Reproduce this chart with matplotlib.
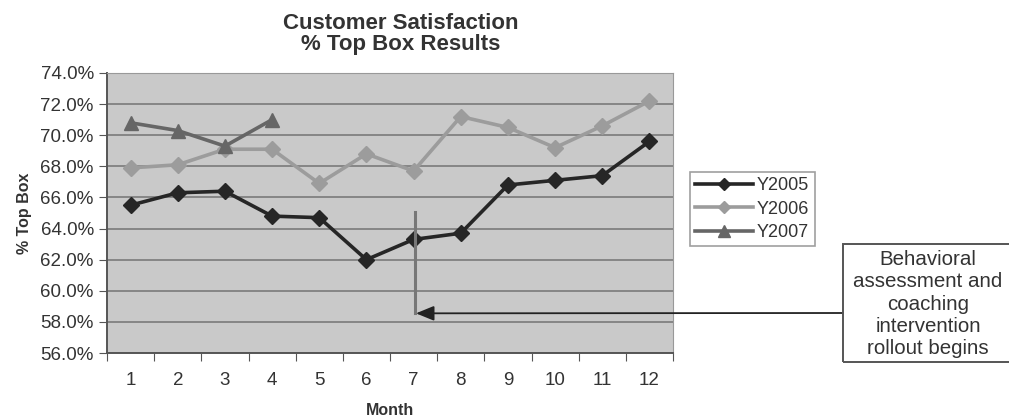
import matplotlib.pyplot as plt
from matplotlib.patches import Rectangle
from matplotlib.ticker import FuncFormatter, FixedLocator

plt.rcParams['font.family'] = ['Liberation Sans', 'DejaVu Sans']

# dados
meses = [1, 2, 3, 4, 5, 6, 7, 8, 9, 10, 11, 12]
y2005 = [65.5, 66.3, 66.4, 64.8, 64.7, 62.0, 63.3, 63.7, 66.8, 67.1, 67.4, 69.6]
y2006 = [67.9, 68.1, 69.1, 69.1, 66.9, 68.8, 67.7, 71.2, 70.5, 69.2, 70.6, 72.2]
y2007 = [70.8, 70.3, 69.3, 71.0]
y_ticks = [56, 58, 60, 62, 64, 66, 68, 70, 72, 74]

W, H = 1009, 417
fig = plt.figure(figsize=(W / 100, H / 100), dpi=100)
ax = fig.add_axes([107 / W, 1 - 353 / H, (673 - 107) / W, (353 - 73) / H])
ax.set_facecolor('#c9c9c9')

for y in y_ticks:
    ax.axhline(y, color='#7a7a7a', lw=1.2, zorder=1)

ax.plot(meses, y2005, color='#262626', lw=2.6, marker='D', ms=8, label='Y2005', zorder=4)
ax.plot(meses, y2006, color='#9c9c9c', lw=2.6, marker='D', ms=8, label='Y2006', zorder=3)
ax.plot(meses[:len(y2007)], y2007, color='#666666', lw=2.6, marker='^', ms=10, label='Y2007', zorder=3)

ax.set_xlim(0.5, 12.5)
ax.set_ylim(56, 74)
ax.set_yticks(y_ticks)
ax.yaxis.set_major_formatter(FuncFormatter(lambda v, p: f'{v:.1f}%'))
ax.xaxis.set_major_locator(FixedLocator([m - 0.5 for m in meses] + [12.5]))
ax.xaxis.set_major_formatter(FuncFormatter(lambda v, p: ''))
ax.xaxis.set_minor_locator(FixedLocator(meses))
ax.xaxis.set_minor_formatter(FuncFormatter(lambda v, p: f'{int(round(v))}'))
ax.tick_params(axis='x', which='major', length=6, color='#555555')
ax.tick_params(axis='x', which='minor', length=0, pad=14, labelsize=13.5, labelcolor='#333333')
ax.tick_params(axis='y', length=6, color='#555555', labelsize=13.5, labelcolor='#333333')

for s in ['top', 'right']:
    ax.spines[s].set_color('#999999')
for s in ['left', 'bottom']:
    ax.spines[s].set_color('#555555')
    ax.spines[s].set_linewidth(1.4)

fig.text(401 / W, 1 - 34 / H, 'Customer Satisfaction\n% Top Box Results', ha='center', va='center',
         fontsize=16, fontweight='bold', color='#333333', linespacing=1.0)
ax.set_ylabel('% Top Box', fontsize=11.5, fontweight='bold', color='#333333', labelpad=6)
ax.set_xlabel('Month', fontsize=11.5, fontweight='bold', color='#333333', labelpad=10)

leg = ax.legend(loc='upper left', bbox_to_anchor=(690 / W, 1 - 172 / H), bbox_transform=fig.transFigure,
                frameon=True, fancybox=False, fontsize=13, handlelength=3.2, handletextpad=0.2,
                borderpad=0.3, labelspacing=0.35, borderaxespad=0, markerscale=0.8)
leg.get_frame().set_edgecolor('#888888')
leg.get_frame().set_linewidth(1.2)
for t in leg.get_texts():
    t.set_color('#333333')

# linha vertical e seta da intervencao
ax.plot([7.03, 7.03], [65.05, 58.55], color='#777777', lw=2.2, zorder=5)
ax.annotate('', xy=(7.05, 58.55), xytext=(843 / W, 1 - 313 / H), xycoords='data',
            textcoords='figure fraction', annotation_clip=False,
            arrowprops=dict(arrowstyle='-|>,head_length=1.1,head_width=0.45', color='#222222',
                            lw=1.3, shrinkA=0, shrinkB=0), zorder=6)

fig.patches.append(Rectangle((843 / W, 1 - 362 / H), (1015 - 843) / W, (362 - 244) / H,
                             transform=fig.transFigure, fill=False, edgecolor='#555555', lw=1.4))
fig.text(928 / W, 1 - 304 / H, 'Behavioral\nassessment and\ncoaching\nintervention\nrollout begins',
         ha='center', va='center', fontsize=14.8, color='#333333', linespacing=1.22)

fig.savefig('out.png', dpi=100)
